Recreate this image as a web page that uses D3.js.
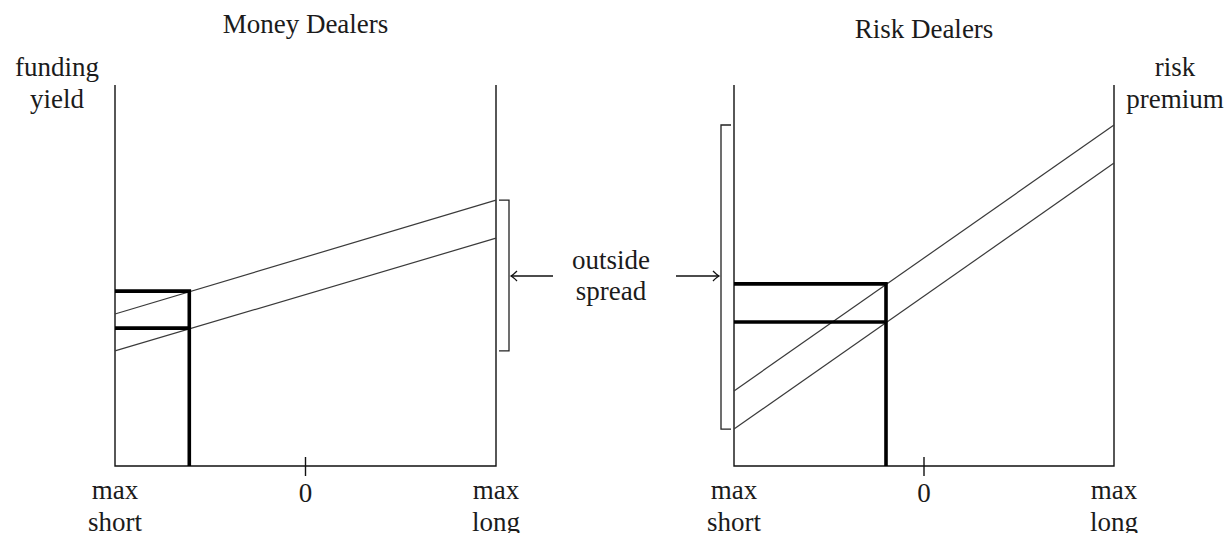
<!DOCTYPE html>
<html>
<head>
<meta charset="utf-8">
<script src="https://cdn.jsdelivr.net/npm/d3@7"></script>
<style>
  body { margin: 0; background: #fff; }
  text { font-family: 'Liberation Serif', 'Times New Roman', serif; font-size: 27px; fill: #1b1b1b; }
</style>
</head>
<body>
<svg id="chart" width="1231" height="533"></svg>
<script>
/* positions run from max short (-1) to max long (+1) */
const positionTicks = [-1, 0, 1]
const tickLabels = [['max', 'short'], ['0'], ['max', 'long']]
const panelTitles = ['Money Dealers', 'Risk Dealers']
const axisTitles = [['funding', 'yield'], ['risk', 'premium']]
const spreadLabel = ['outside', 'spread']

// quote lines, value at max short and at max long
const moneyAsk = [39.9, 69.8]
const moneyBid = [30.2, 59.8]
const riskAsk = [19.7, 89.5]
const riskBid = [9.7, 79.5]

// equilibrium: [position, ask, bid]
const moneyPosition = [-0.61, 45.9, 36.2]
const riskPosition = [-0.2, 47.8, 37.8]

const svg = d3.select('#chart')
const y = d3.scaleLinear().domain([0, 100]).range([466, 85])

const panels = [
  { left: 115, right: 496, title: panelTitles[0], titleY: 33, ask: moneyAsk, bid: moneyBid, pos: moneyPosition, bracket: 'right' },
  { left: 734, right: 1114, title: panelTitles[1], titleY: 38, ask: riskAsk, bid: riskBid, pos: riskPosition, bracket: 'left' }
]

/** Draw one dealer panel
  * @param {Object} p panel settings
  */
function drawPanel (p) {
  const x = d3.scaleLinear().domain([-1, 1]).range([p.left, p.right])
  const g = svg.append('g')

  g.append('text').attr('x', x(0)).attr('y', p.titleY)
    .attr('text-anchor', 'middle').text(p.title)

  // frame: two verticals and the position axis
  g.append('path')
    .attr('d', `M${x(-1)},${y(100)}V${y(0)}H${x(1)}V${y(100)}`)
    .attr('fill', 'none').attr('stroke', '#111').attr('stroke-width', 1.4)

  g.append('line')
    .attr('x1', x(0)).attr('x2', x(0))
    .attr('y1', y(0) - 9).attr('y2', y(0) + 10)
    .attr('stroke', '#111').attr('stroke-width', 1.4)

  positionTicks.forEach((t, i) => {
    tickLabels[i].forEach((s, j) => {
      g.append('text').attr('x', x(t)).attr('y', (t === 0 ? 502 : 499) + j * 32)
        .attr('text-anchor', 'middle').text(s)
    })
  })

  // ask and bid lines
  const line = d3.line().x((d, i) => x(positionTicks[i * 2])).y(d => y(d))
  ;[p.ask, p.bid].forEach(q => {
    g.append('path').attr('d', line(q))
      .attr('fill', 'none').attr('stroke', '#3a3a3a').attr('stroke-width', 1.2)
  })

  // equilibrium position and quotes
  const [pos, ask, bid] = p.pos
  g.append('path')
    .attr('d', `M${x(-1)},${y(ask)}H${x(pos)}V${y(0)}M${x(-1)},${y(bid)}H${x(pos)}`)
    .attr('fill', 'none').attr('stroke', '#000').attr('stroke-width', 3.6)

  // outside spread bracket
  const top = y(d3.max(p.ask))
  const bottom = y(d3.min(p.bid))
  const bx = p.bracket === 'right' ? p.right + 13 : p.left - 13
  const stub = p.bracket === 'right' ? -10 : 10
  g.append('path')
    .attr('d', `M${bx + stub},${top}H${bx}V${bottom}H${bx + stub}`)
    .attr('fill', 'none').attr('stroke', '#222').attr('stroke-width', 1.3)
  return bx
}

const bracketX = panels.map(drawPanel)

// axis titles
;[[57, axisTitles[0]], [1175, axisTitles[1]]].forEach(([cx, words]) => {
  words.forEach((s, j) => {
    svg.append('text').attr('x', cx).attr('y', 76 + j * 32)
      .attr('text-anchor', 'middle').text(s)
  })
})

// outside spread label and arrows
spreadLabel.forEach((s, j) => {
  svg.append('text').attr('x', 611).attr('y', 269 + j * 31)
    .attr('text-anchor', 'middle').text(s)
})

const arrowY = 276
;[[553, bracketX[0] + 2], [676, bracketX[1] - 2]].forEach(([from, to]) => {
  const d = to < from ? 1 : -1
  svg.append('line')
    .attr('x1', from).attr('x2', to).attr('y1', arrowY).attr('y2', arrowY)
    .attr('stroke', '#111').attr('stroke-width', 1.3)
  svg.append('path')
    .attr('d', `M${to + 6 * d},${arrowY - 5}Q${to + 2 * d},${arrowY - 1} ${to},${arrowY}Q${to + 2 * d},${arrowY + 1} ${to + 6 * d},${arrowY + 5}`)
    .attr('fill', 'none').attr('stroke', '#111').attr('stroke-width', 1.3)
})
</script>
</body>
</html>
